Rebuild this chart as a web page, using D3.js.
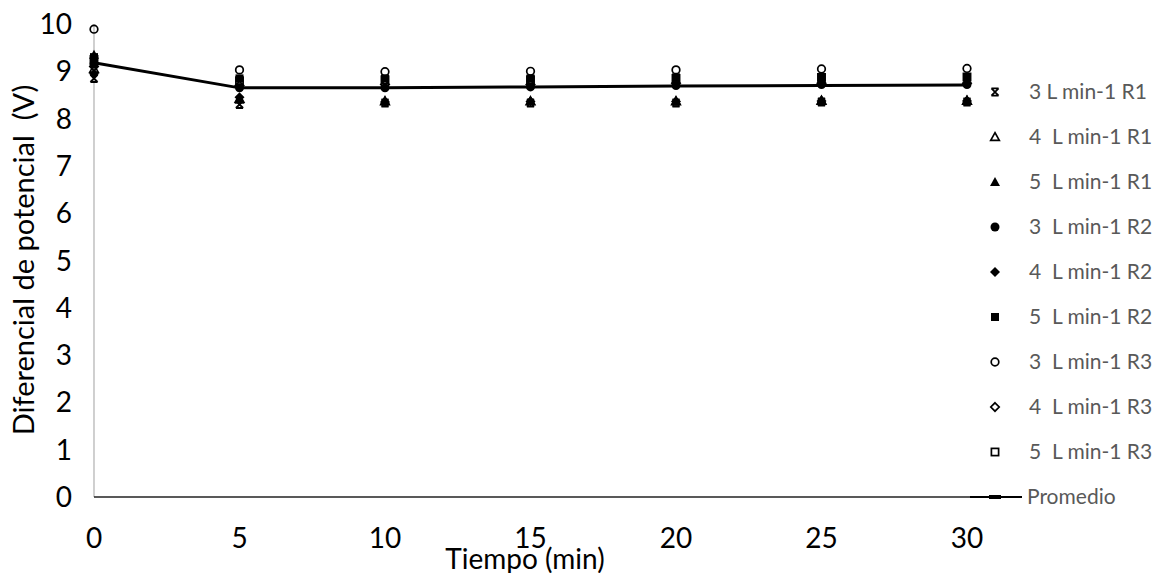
<!DOCTYPE html>
<html><head><meta charset="utf-8">
<script src="https://cdn.jsdelivr.net/npm/d3@7"></script>
<style>
body{margin:0;background:#fff;}
svg{display:block;font-family:Lato,"Open Sans",sans-serif;}
svg text{white-space:pre;}
</style></head><body>
<svg id="c" width="1156" height="573"></svg>
<script>
const times = [0, 5, 10, 15, 20, 25, 30];
const xTicks = [0, 5, 10, 15, 20, 25, 30];
const yTicks = [0, 1, 2, 3, 4, 5, 6, 7, 8, 9, 10];
const seriesNames = ["3 L min-1 R1", "4  L min-1 R1", "5  L min-1 R1", "3  L min-1 R2", "4  L min-1 R2", "5  L min-1 R2", "3  L min-1 R3", "4  L min-1 R3", "5  L min-1 R3"];
const s3R1 = [8.85, 8.30, 8.33, 8.33, 8.33, 8.35, 8.35];
const s4R1 = [9.05, 8.42, 8.37, 8.37, 8.37, 8.38, 8.38];
const s5R1 = [9.35, 8.40, 8.38, 8.38, 8.38, 8.40, 8.40];
const s3R2 = [9.15, 8.65, 8.65, 8.67, 8.70, 8.72, 8.72];
const s4R2 = [8.95, 8.45, 8.35, 8.36, 8.36, 8.37, 8.37];
const s5R2 = [9.30, 8.85, 8.85, 8.85, 8.87, 8.88, 8.88];
const s3R3 = [9.89, 9.03, 8.99, 9.00, 9.03, 9.05, 9.06];
const s4R3 = [9.10, 8.70, 8.72, 8.72, 8.75, 8.75, 8.75];
const s5R3 = [9.25, 8.80, 8.82, 8.82, 8.85, 8.87, 8.88];
const promedio = [9.18, 8.65, 8.65, 8.67, 8.69, 8.70, 8.71];
const allSeries = [s3R1, s4R1, s5R1, s3R2, s4R2, s5R2, s3R3, s4R3, s5R3];
// marker kinds: [symbol, filled]
const markerKinds = [["x", true], ["tri", false], ["tri", true], ["circle", true], ["diamond", true], ["square", true], ["circle", false], ["diamond", false], ["square", false]];

const svg = d3.select("#c");
const x = d3.scaleLinear().domain([0, 30]).range([94, 967]);
const y = d3.scaleLinear().domain([0, 10]).range([497, 24]);

// y axis line (grey)
svg.append("line").attr("x1", x(0)).attr("x2", x(0)).attr("y1", y(10)).attr("y2", y(0))
  .attr("stroke", "#c4c4c4").attr("stroke-width", 1.6);
// x axis line
svg.append("line").attr("x1", x(0)).attr("x2", x(30) + 3).attr("y1", y(0)).attr("y2", y(0))
  .attr("stroke", "#222").attr("stroke-width", 1.6);

// tick labels
svg.selectAll("text.yt").data(yTicks).enter().append("text")
  .attr("x", 72).attr("y", d => y(d) + 10).attr("text-anchor", "end")
  .attr("font-size", 28).attr("fill", "#000").text(d => d);
svg.selectAll("text.xt").data(xTicks).enter().append("text")
  .attr("x", d => x(d)).attr("y", 548).attr("text-anchor", "middle")
  .attr("font-size", 28).attr("fill", "#000").text(d => d);

// axis titles
svg.append("text").attr("x", 525).attr("y", 569).attr("text-anchor", "middle")
  .attr("font-size", 28).attr("fill", "#000").text("Tiempo (min)");
svg.append("text").attr("transform", "translate(34,260) rotate(-90)").attr("text-anchor", "middle")
  .attr("font-size", 29).attr("fill", "#000").text("Diferencial de potencial  (V)");

function drawMarker(g, kind, filled, cx, cy) {
  const fill = filled ? "#000" : "none";
  const sw = 1.7;
  if (kind === "circle") {
    g.append("circle").attr("cx", cx).attr("cy", cy).attr("r", filled ? 4.5 : 3.8)
      .attr("fill", fill).attr("stroke", "#000").attr("stroke-width", filled ? 0 : sw);
  } else if (kind === "square") {
    const h = filled ? 4 : 3.6;
    g.append("rect").attr("x", cx - h).attr("y", cy - h)
      .attr("width", 2 * h).attr("height", 2 * h)
      .attr("fill", fill).attr("stroke", "#000").attr("stroke-width", filled ? 0 : sw);
  } else if (kind === "diamond") {
    const r = filled ? 5 : 4.2;
    g.append("path").attr("d", `M${cx},${cy - r}L${cx + r},${cy}L${cx},${cy + r}L${cx - r},${cy}Z`)
      .attr("fill", fill).attr("stroke", "#000").attr("stroke-width", filled ? 0 : sw);
  } else if (kind === "tri") {
    const r = filled ? 5 : 4.3;
    g.append("path").attr("d", `M${cx},${cy - r}L${cx + r},${cy + r * 0.8}L${cx - r},${cy + r * 0.8}Z`)
      .attr("fill", fill).attr("stroke", "#000").attr("stroke-width", filled ? 0 : sw);
  } else if (kind === "x") {
    const r = 3.6;
    g.append("path").attr("d", `M${cx - r},${cy - r}L${cx + r},${cy + r}M${cx + r},${cy - r}L${cx - r},${cy + r}M${cx - r},${cy - r}L${cx + r},${cy - r}M${cx - r},${cy + r}L${cx + r},${cy + r}`)
      .attr("fill", "none").attr("stroke", "#000").attr("stroke-width", 1.8);
  }
}

const gm = svg.append("g");
allSeries.forEach((s, i) => {
  const [kind, filled] = markerKinds[i];
  s.forEach((v, j) => drawMarker(gm, kind, filled, x(times[j]), y(v)));
});

// average line
const line = d3.line().x((d, i) => x(times[i])).y(d => y(d));
svg.append("path").datum(promedio).attr("d", line).attr("fill", "none")
  .attr("stroke", "#000").attr("stroke-width", 3);

// legend
const lg = svg.append("g");
const legY0 = 92, legStep = 45;
seriesNames.forEach((n, i) => {
  const [kind, filled] = markerKinds[i];
  drawMarker(lg, kind, filled, 995, legY0 + i * legStep);
  lg.append("text").attr("x", 1029).attr("y", legY0 + i * legStep + 7)
    .attr("font-size", 21).attr("fill", "#595959").text(n);
});
const py = legY0 + 9 * legStep;
lg.append("line").attr("x1", 970).attr("x2", 1022).attr("y1", py).attr("y2", py)
  .attr("stroke", "#000").attr("stroke-width", 2);
lg.append("rect").attr("x", 989).attr("y", py - 2).attr("width", 12).attr("height", 4).attr("fill", "#000");
lg.append("text").attr("x", 1027).attr("y", py + 7).attr("font-size", 21).attr("fill", "#595959").text("Promedio");
</script>
</body></html>
